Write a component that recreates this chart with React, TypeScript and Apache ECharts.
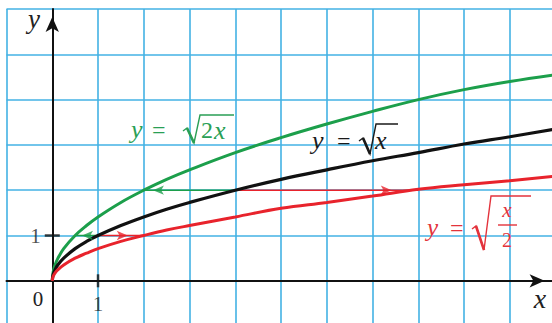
import React, { useEffect, useRef } from "react";
import * as echarts from "echarts";

// ---- data ----
const xs = [0, 0.02, 0.06, 0.12, 0.25, 0.5, 0.75, 1, 1.5, 2, 2.5, 3, 4, 5, 6, 7, 8, 9, 10, 11];
const greenY = [0, 0.2, 0.35, 0.49, 0.71, 1.0, 1.22, 1.41, 1.73, 2.0, 2.24, 2.45, 2.83, 3.16, 3.46, 3.74, 4.0, 4.22, 4.4, 4.55];
const blackY = [0, 0.14, 0.24, 0.35, 0.5, 0.71, 0.87, 1.0, 1.22, 1.41, 1.58, 1.73, 2.0, 2.24, 2.45, 2.65, 2.83, 3.02, 3.18, 3.35];
const redY = [0, 0.1, 0.17, 0.24, 0.35, 0.5, 0.61, 0.71, 0.87, 1.0, 1.12, 1.22, 1.41, 1.6, 1.73, 1.87, 2.02, 2.12, 2.21, 2.31];

// horizontal connectors
const levels = [1, 2];
const greenEndX = [0.5, 2];
const blackEndX = [1, 4];
const redEndX = [2, 8];
const greenArrowX = [0.65, 2.2];
const redArrowX = [1.65, 7.42];

const tickX = [[1, 0]];
const tickY = [[0, 1]];
const tickLabels = ["1"];

const GREEN = "#1c9f4b";
const BLACK = "#111111";
const RED = "#e8232c";
const GRID = "#43b2e4";
const SERIF = "'Liberation Serif', 'Times New Roman', 'DejaVu Serif', serif";

export default function App() {
  const ref = useRef<HTMLDivElement>(null);

  useEffect(() => {
    if (!ref.current) return;
    const chart = echarts.init(ref.current, undefined, { renderer: "svg" });

    const curve = (ys: number[], color: string, w: number) => ({
      type: "line",
      data: xs.map((x, i) => [x, ys[i]]),
      showSymbol: false,
      smooth: 0.4,
      lineStyle: { color, width: w },
      z: 5,
      silent: true,
    });

    const segs: any[] = [];
    levels.forEach((lv, i) => {
      segs.push({
        type: "line",
        data: [[blackEndX[i], lv], [greenEndX[i], lv]],
        showSymbol: false,
        lineStyle: { color: GREEN, width: 1.6 },
        z: 4,
        silent: true,
      });
      segs.push({
        type: "line",
        data: [[blackEndX[i], lv], [redEndX[i], lv]],
        showSymbol: false,
        lineStyle: { color: RED, width: 1.6 },
        z: 4,
        silent: true,
      });
    });

    const labelText = (text: string, x: number, y: number, color: string, size: number, italic: boolean, align = "left") => ({
      type: "text",
      x,
      y,
      z: 20,
      style: {
        text,
        fill: color,
        font: `${italic ? "italic " : ""}${size}px ${SERIF}`,
        align,
        textAlign: align,
        verticalAlign: "middle",
        textVerticalAlign: "middle",
      },
    });
    const radical = (pts: number[][], color: string) => [
      { type: "polyline", z: 20, shape: { points: pts }, style: { stroke: color, lineWidth: 1.4, fill: "none" } },
      { type: "line", z: 20, shape: { x1: pts[1][0], y1: pts[1][1], x2: pts[2][0], y2: pts[2][1] }, style: { stroke: color, lineWidth: 2.6 } },
    ];

    const LG = "#2a9f55";
    const LK = "#1a1a1a";
    const LR = "#e3333c";

    const graphic: any[] = [
      labelText("0", 38, 299, "#222", 21, false, "center"),
      labelText("x", 540, 298, "#222", 28, true, "center"),
      labelText("y", 34, 19, "#222", 27, true, "center"),
      // green label
      labelText("y", 131, 129, LG, 26, true),
      labelText("=", 152, 130, LG, 24, false),
      labelText("2", 201, 130, LG, 24, false),
      labelText("x", 214, 130, LG, 26, true),
      ...radical([[183, 131], [187, 128], [194, 143], [200, 115], [234, 115]], LG),
      // black label
      labelText("y", 312, 140, LK, 26, true),
      labelText("=", 337, 141, LK, 24, false),
      labelText("x", 375, 140, LK, 26, true),
      ...radical([[359, 141], [363, 138], [370, 154], [376, 124], [398, 124]], LK),
      // red label
      labelText("y", 427, 227, LR, 25, true),
      labelText("=", 450, 228, LR, 24, false),
      labelText("x", 507, 210, LR, 21, true, "center"),
      labelText("2", 507, 240, LR, 20, false, "center"),
      { type: "line", z: 20, shape: { x1: 498, y1: 225, x2: 517, y2: 225 }, style: { stroke: LR, lineWidth: 1.4 } },
      ...radical([[472, 229], [476, 226], [484, 250], [491, 196], [531, 196]], LR),
    ];

    const tickLabel = (position: string, distance: number) => ({
      show: true,
      formatter: () => tickLabels[0],
      position,
      distance,
      fontFamily: SERIF,
      fontSize: 21,
      color: "#222",
    });

    const option: any = {
      animation: false,
      grid: { left: 6.5, top: 9, right: -3.6, bottom: -3.1, containLabel: false, outerBoundsMode: "none" },
      xAxis: {
        type: "value",
        min: -1,
        max: 11,
        interval: 1,
        axisLine: {
          show: true,
          onZero: true,
          lineStyle: { color: BLACK, width: 2 },
          symbol: ["none", "arrow"],
          symbolSize: [10, 15],
          symbolOffset: [0, -11],
        },
        axisTick: { show: false },
        axisLabel: { show: false },
        splitLine: { show: true, lineStyle: { color: GRID, width: 1.6 } },
        z: 3,
      },
      yAxis: {
        type: "value",
        min: -1,
        max: 6,
        interval: 1,
        axisLine: {
          show: true,
          onZero: true,
          lineStyle: { color: BLACK, width: 2 },
          symbol: ["none", "arrow"],
          symbolSize: [10, 15],
          symbolOffset: [0, -8],
        },
        axisTick: { show: false },
        axisLabel: { show: false },
        splitLine: { show: true, lineStyle: { color: GRID, width: 1.6 } },
        z: 3,
      },
      series: [
        ...segs,
        curve(greenY, GREEN, 3),
        curve(blackY, BLACK, 3.2),
        curve(redY, RED, 3),
        {
          type: "scatter",
          data: greenArrowX.map((x, i) => [x, levels[i]]),
          symbol: "arrow",
          symbolSize: [7, 11],
          symbolRotate: 90,
          itemStyle: { color: GREEN },
          z: 6,
          silent: true,
        },
        {
          type: "scatter",
          data: redArrowX.map((x, i) => [x, levels[i]]),
          symbol: "arrow",
          symbolSize: [7, 11],
          symbolRotate: -90,
          itemStyle: { color: RED },
          z: 6,
          silent: true,
        },
        {
          type: "scatter",
          data: tickX,
          symbol: "rect",
          symbolSize: [2.5, 13],
          itemStyle: { color: BLACK },
          label: tickLabel("bottom", 6),
          z: 6,
          silent: true,
        },
        {
          type: "scatter",
          data: tickY,
          symbol: "rect",
          symbolSize: [15, 2.5],
          itemStyle: { color: BLACK },
          label: tickLabel("left", 4),
          z: 6,
          silent: true,
        },
      ],
      graphic,
    };

    chart.setOption(option);
    return () => chart.dispose();
  }, []);

  return (
    <div
      ref={ref}
      style={{ position: "absolute", left: 0, top: 0, width: 552, height: 323, background: "#fff" }}
    />
  );
}
